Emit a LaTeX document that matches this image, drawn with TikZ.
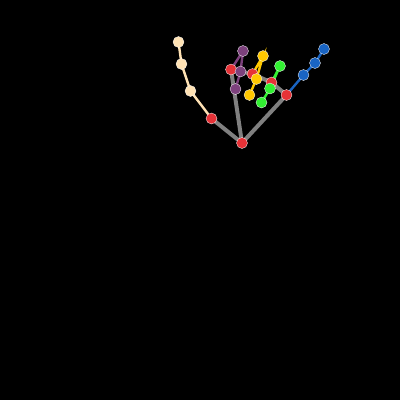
\documentclass[tikz,border=0pt]{standalone}

\definecolor{palm}{RGB}{128,128,128}
\definecolor{joint}{RGB}{230,50,55}
\definecolor{thumbc}{RGB}{255,226,180}
\definecolor{indexc}{RGB}{125,65,125}
\definecolor{middlec}{RGB}{255,200,0}
\definecolor{ringc}{RGB}{50,240,50}
\definecolor{pinkyc}{RGB}{25,100,195}

\begin{document}
\begin{tikzpicture}[
  x=1pt,y=-1pt,
  pt/.style={circle,draw=white,line width=0.3pt,inner sep=0pt,minimum size=11pt},
  bone/.style={line width=2.4pt},
  palmline/.style={draw=palm,line width=4pt},
]
\fill[black] (0,0) rectangle (400,400);
\useasboundingbox (0,0) rectangle (400,400);
% joints
\coordinate (w) at (242,143);
\coordinate (t1) at (211.5,118.5);
\coordinate (t2) at (190.5,91);
\coordinate (t3) at (181.5,64);
\coordinate (t4) at (178.5,42);
\coordinate (i1) at (231,69.5);
\coordinate (i2) at (243,51);
\coordinate (i3) at (240.5,71.5);
\coordinate (i4) at (235.5,89);
\coordinate (m1) at (252.5,74);
\coordinate (m2) at (263,56);
\coordinate (m3) at (256.5,79);
\coordinate (m4) at (249.5,95);
\coordinate (r1) at (271.5,82.5);
\coordinate (r2) at (280,66);
\coordinate (r3) at (270,88.5);
\coordinate (r4) at (261.5,102.5);
\coordinate (p1) at (286.5,95);
\coordinate (p2) at (303.5,75);
\coordinate (p3) at (315,63);
\coordinate (p4) at (324,49);
% palm
\draw[palmline] (w)--(t1) (w)--(i1) (w)--(p1);
\draw[palmline] (i1)--(m1)--(r1)--(p1);
% fingers
\draw[bone,thumbc] (t1)--(t2)--(t3)--(t4);
\draw[bone,indexc] (i1)--(i2)--(i3)--(i4);
\draw[bone,middlec] (m1)--(m2)--(m3)--(m4);
\draw[bone,ringc] (r1)--(r2)--(r3)--(r4);
\draw[bone,pinkyc] (p1)--(p2)--(p3)--(p4);
\foreach \n in {w,t1,i1,m1,r1,p1}{\node[pt,fill=joint] at (\n) {};}
\foreach \n in {2,3,4}{
  \node[pt,fill=thumbc] at (t\n) {};
  \node[pt,fill=indexc] at (i\n) {};
  \node[pt,fill=middlec] at (m\n) {};
  \node[pt,fill=ringc] at (r\n) {};
  \node[pt,fill=pinkyc] at (p\n) {};
}
\end{tikzpicture}
\end{document}
